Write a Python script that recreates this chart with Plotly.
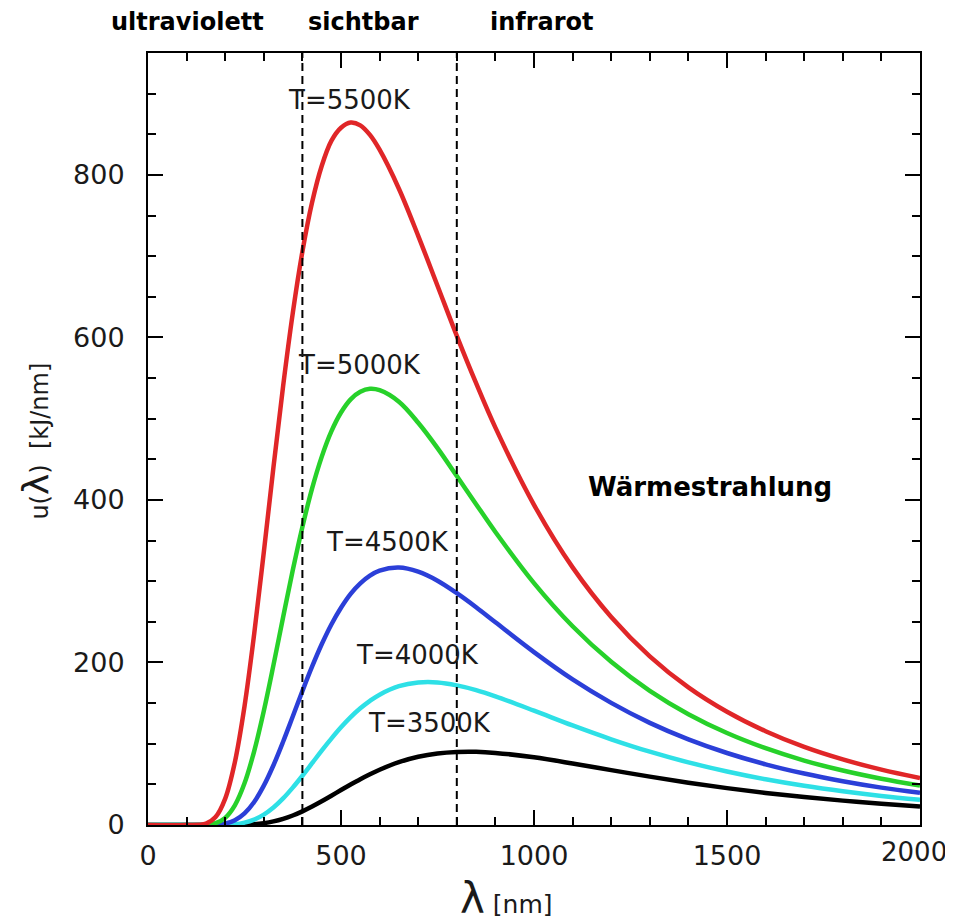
import plotly.graph_objects as go

# wavelength grid (nm)
lam = [0, 100, 150, 175, 200, 225, 250, 275, 300, 325, 350, 375, 400, 425, 450, 475, 500, 525,
       550, 575, 600, 650, 700, 750, 800, 850, 900, 1000, 1100, 1200, 1300, 1400, 1500, 1600,
       1700, 1800, 1900, 2000]

# u(lambda) values (kJ/nm)
u_5500 = [0, 0, 1.75, 9.8, 32.5, 77.3, 146, 234.7, 335.7, 440.1, 540, 629.7, 705.6, 766.0, 811,
          841.8, 858, 864.4, 861, 849.2, 831, 783, 725, 663.6, 602, 543.7, 489, 394, 317, 256,
          207.6, 169.4, 139.4, 115.4, 96.1, 80.7, 68.1, 57.8]
u_5000 = [0, 0, 0.31, 2.2, 8.8, 24.2, 51.3, 90.7, 140.3, 196.7, 255.6, 313.4, 366.8, 413.9, 453,
          484.3, 507.6, 523.8, 533, 536.7, 535, 520.8, 495, 463.8, 429.4, 394.8, 360.6, 297.7,
          244.6, 200.8, 165.1, 136.4, 113.2, 94.5, 79.3, 67.0, 56.9, 48.5]
u_4500 = [0, 0, 0.05, 0.4, 1.77, 5.83, 14.3, 28.3, 48.4, 73.5, 102.5, 133.5, 164.8, 194.8, 222.4,
          246.8, 267.4, 284.5, 297.4, 306.9, 313.1, 316.8, 311.7, 300.6, 285.3, 268.0, 249.5,
          212.8, 179.2, 150.3, 125.7, 105.4, 88.6, 74.7, 63.3, 53.9, 46.0, 39.6]
u_4000 = [0, 0, 0, 0.03, 0.24, 0.9, 2.88, 6.6, 12.8, 21.5, 32.7, 46.0, 60.6, 76.0, 91.5, 106.3,
          120.2, 132.7, 143.6, 152.8, 160.4, 170.8, 175.3, 175.4, 171.8, 166.0, 158.3, 140.7,
          122.5, 105.5, 90.2, 77.0, 65.8, 56.2, 48.2, 41.5, 35.8, 31.0]
u_3500 = [0, 0, 0, 0, 0.01, 0.08, 0.37, 1.02, 2.3, 4.43, 7.54, 11.7, 16.8, 22.7, 29.2, 36.0, 43.0,
          49.8, 56.4, 62.5, 68.0, 77.3, 83.9, 88.0, 89.9, 90.1, 88.7, 83.3, 75.7, 67.5, 59.5,
          52.0, 45.4, 39.5, 34.4, 30.0, 26.2, 22.9]

series = [
    ("T=3500K", u_3500, "#000000"),
    ("T=4000K", u_4000, "#2ee0e6"),
    ("T=4500K", u_4500, "#2b3fd8"),
    ("T=5000K", u_5000, "#27d12a"),
    ("T=5500K", u_5500, "#e02628"),
]

# x tick labels
x_tickvals = [0, 500, 1000, 1500, 2000]
x_ticktext = ["0", "500", "1000", "1500", "2000"]

# curve label positions (data coordinates)
label_x = {"T=5500K": 523, "T=5000K": 549, "T=4500K": 621, "T=4000K": 697, "T=3500K": 730}
label_y = {"T=5500K": 892, "T=5000K": 566, "T=4500K": 348, "T=4000K": 209, "T=3500K": 125}

region_names = ["ultraviolett", "sichtbar", "infrarot"]
region_px = [0.0512, 0.2785, 0.510]   # paper x of the region captions
boundaries = [400, 800]

fig = go.Figure()
for name, vals, col in series:
    fig.add_trace(go.Scatter(x=lam, y=vals, mode="lines", name=name,
                             line=dict(color=col, width=4.5, shape="spline", smoothing=1.0),
                             showlegend=False, hoverinfo="skip"))

for b in boundaries:
    fig.add_shape(type="line", xref="x", yref="paper", x0=b, x1=b, y0=0, y1=1,
                  line=dict(color="black", width=2, dash="8px,5px"), layer="above")

lab_font = dict(family="DejaVu Sans", size=26, color="#1a1a1a")
for name, _, _ in series:
    fig.add_annotation(x=label_x[name], y=label_y[name], xref="x", yref="y", text=name,
                       showarrow=False, font=lab_font, xanchor="center", yanchor="middle")

for n, xx in zip(region_names, region_px):
    fig.add_annotation(x=xx, y=1.040, xref="paper", yref="paper", text="<b>" + n + "</b>",
                       showarrow=False,
                       font=dict(family="DejaVu Sans", size=24, color="black"),
                       xanchor="center", yanchor="middle")

fig.add_annotation(x=1456, y=416, xref="x", yref="y", text="<b>Wärmestrahlung</b>",
                   showarrow=False, font=dict(family="DejaVu Sans", size=26, color="black"),
                   xanchor="center", yanchor="middle")

# axis titles
fig.add_annotation(x=0.464, y=-0.0946, xref="paper", yref="paper",
                   text="<span style='font-size:42px'>λ</span> [nm]", showarrow=False,
                   font=dict(family="DejaVu Sans", size=25, color="#1a1a1a"),
                   xanchor="center", yanchor="middle")
fig.add_annotation(x=-0.146, y=0.497, xref="paper", yref="paper", textangle=-90,
                   text="u(<span style='font-size:36px'>λ</span>)  [kJ/nm]", showarrow=False,
                   font=dict(family="DejaVu Sans", size=24, color="#1a1a1a"),
                   xanchor="center", yanchor="middle")

tick_font = dict(family="DejaVu Sans", size=27, color="#1a1a1a")
axis_common = dict(showline=True, linecolor="black", linewidth=2, mirror="allticks",
                   ticks="inside", tickcolor="black", tickwidth=2, ticklen=15,
                   showgrid=False, zeroline=False, tickfont=tick_font)

# the last x label sits on the page edge; drawn as an annotation so it cannot shift margins
fig.add_annotation(x=x_tickvals[-1], y=0, xref="x", yref="y", text=x_ticktext[-1],
                   showarrow=False, font=dict(family="DejaVu Sans", size=26, color="#1a1a1a"),
                   xanchor="center", yanchor="top", yshift=-10, xshift=-6)

fig.update_xaxes(range=[0, 2000], tickvals=x_tickvals[:-1], ticktext=x_ticktext[:-1],
                 ticklabelstandoff=6,
                 minor=dict(dtick=100, ticks="inside", ticklen=8, tickcolor="black", tickwidth=2),
                 **axis_common)
fig.update_yaxes(range=[0, 950], tick0=0, dtick=200, ticklabelstandoff=16,
                 minor=dict(dtick=50, ticks="inside", ticklen=8, tickcolor="black", tickwidth=2),
                 **axis_common)

fig.update_layout(width=945, height=915, margin=dict(l=140, r=33, t=45, b=98),
                  paper_bgcolor="white", plot_bgcolor="white")

fig.write_html("out.html")
